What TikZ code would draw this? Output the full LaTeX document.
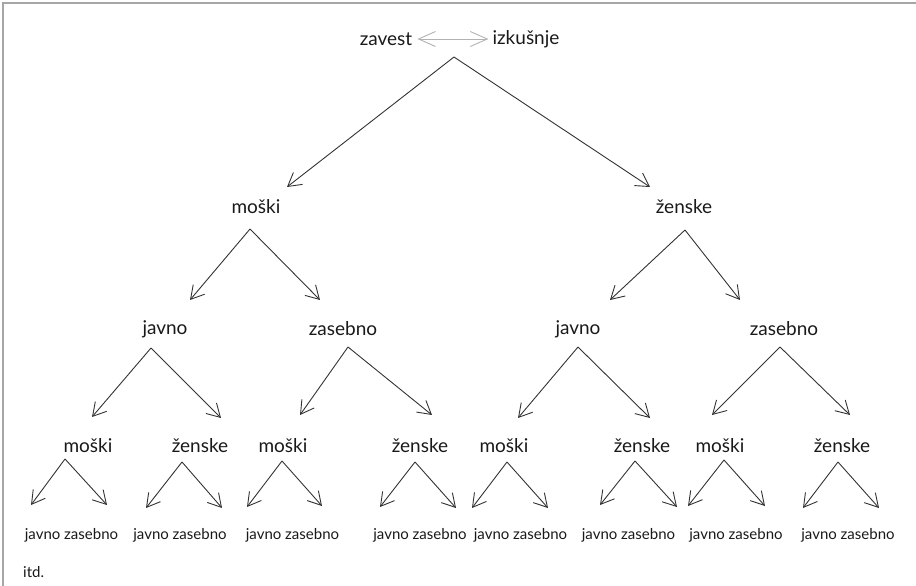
\documentclass[tikz,border=0pt]{standalone}
\usepackage{fontspec}
\setmainfont{Lato}
\usetikzlibrary{arrows.meta}
\begin{document}
\begin{tikzpicture}[x=1pt,y=-1pt,
  big/.style={font=\fontsize{19}{21}\selectfont, inner sep=0pt, text=black!90},
  small/.style={font=\fontsize{15}{17}\selectfont, inner sep=0pt, text=black!90},
  arr/.style={draw=black!80, line width=0.9pt, -{Straight Barb[length=13pt,width=15pt]}},
  garr/.style={draw=black!30, line width=0.9pt, {Straight Barb[length=17pt,width=15pt]}-{Straight Barb[length=17pt,width=15pt]}},
  frame/.style={draw=black!35, line width=2pt}
]
\useasboundingbox (0,0) rectangle (916,586);
\draw[frame] (3,586) -- (3,3) -- (916,3);

% top
\node[big] (zavest) at (386,39) {zavest};
\node[big] (izk) at (526,39) {izkušnje};
\path (zavest.east) ++(5,0) coordinate (ga);
\path (izk.west) ++(-4,0) coordinate (gb);
\draw[garr] (ga) -- (gb);
\coordinate (t0) at (454,57);
\coordinate (t1) at (287,187);
\coordinate (t2) at (650,187);
\draw[arr] (t0) -- (t1);
\draw[arr] (t0) -- (t2);

% level 2
\node[big] (m) at (256,207) {moški};
\node[big] (z) at (684,207) {ženske};
\coordinate (ma) at (250,229);
\coordinate (ml) at (190,300);
\coordinate (mr) at (320,300);
\coordinate (za) at (685,230);
\coordinate (zl) at (610,300);
\coordinate (zr) at (740,300);
\draw[arr] (ma) -- (ml);
\draw[arr] (ma) -- (mr);
\draw[arr] (za) -- (zl);
\draw[arr] (za) -- (zr);

% level 3
\node[big] (mj) at (165,329) {javno};
\node[big] (mz) at (343,329) {zasebno};
\node[big] (zj) at (578,329) {javno};
\node[big] (zz) at (784,329) {zasebno};
\coordinate (mja) at (151,348); \coordinate (mjl) at (92,417); \coordinate (mjr) at (221,418);
\coordinate (mza) at (348,347); \coordinate (mzl) at (300,415); \coordinate (mzr) at (432,415);
\coordinate (zja) at (578,347); \coordinate (zjl) at (518,418); \coordinate (zjr) at (650,418);
\coordinate (zza) at (780,347); \coordinate (zzl) at (712,415); \coordinate (zzr) at (850,415);
\foreach \n in {mj,mz,zj,zz}{
  \draw[arr] (\n a) -- (\n l);
  \draw[arr] (\n a) -- (\n r);
}

% level 4
\node[big] (q1) at (88,446) {moški};
\node[big] (q2) at (200,446) {ženske};
\node[big] (q3) at (283,446) {moški};
\node[big] (q4) at (420,446) {ženske};
\node[big] (q5) at (504,446) {moški};
\node[big] (q6) at (642,446) {ženske};
\node[big] (q7) at (720,446) {moški};
\node[big] (q8) at (842,446) {ženske};
\coordinate (q1a) at (65,459);  \coordinate (q1l) at (31,505);  \coordinate (q1r) at (107,505);
\coordinate (q2a) at (182,462); \coordinate (q2l) at (146,508); \coordinate (q2r) at (222,508);
\coordinate (q3a) at (282,461); \coordinate (q3l) at (247,507); \coordinate (q3r) at (322,506);
\coordinate (q4a) at (415,462); \coordinate (q4l) at (380,507); \coordinate (q4r) at (456,508);
\coordinate (q5a) at (507,462); \coordinate (q5l) at (472,508); \coordinate (q5r) at (548,508);
\coordinate (q6a) at (635,461); \coordinate (q6l) at (600,505); \coordinate (q6r) at (677,507);
\coordinate (q7a) at (724,460); \coordinate (q7l) at (688,506); \coordinate (q7r) at (765,506);
\coordinate (q8a) at (838,462); \coordinate (q8l) at (803,508); \coordinate (q8r) at (879,508);
\foreach \n in {q1,q2,q3,q4,q5,q6,q7,q8}{
  \draw[arr] (\n a) -- (\n l);
  \draw[arr] (\n a) -- (\n r);
}

% leaves
\node[small] (p1) at (71.5,535) {javno zasebno};
\node[small] (p2) at (180,535) {javno zasebno};
\node[small] (p3) at (292.5,535) {javno zasebno};
\node[small] (p4) at (420,535) {javno zasebno};
\node[small] (p5) at (520.5,535) {javno zasebno};
\node[small] (p6) at (628.5,535) {javno zasebno};
\node[small] (p7) at (736,535) {javno zasebno};
\node[small] (p8) at (848,535) {javno zasebno};
\node[small, anchor=west] (itd) at (23,572) {itd.};
\end{tikzpicture}
\end{document}
